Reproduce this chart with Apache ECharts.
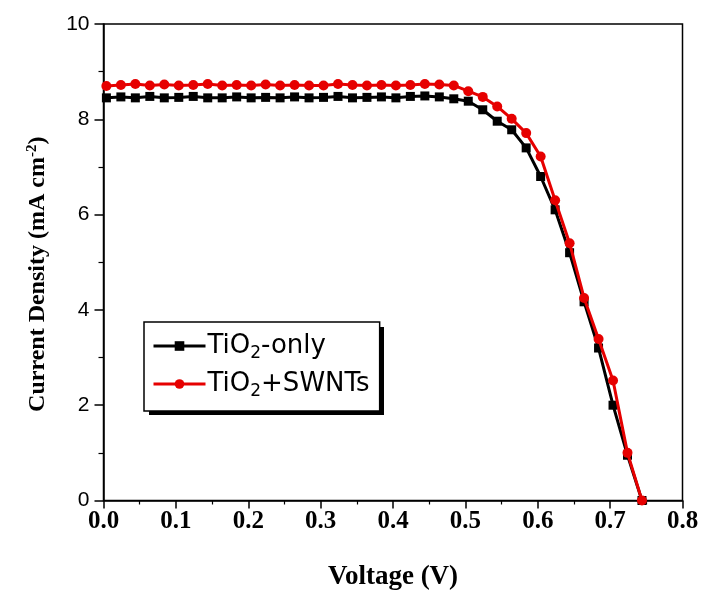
<!DOCTYPE html>
<html>
<head>
<meta charset="utf-8">
<script src="https://cdn.jsdelivr.net/npm/echarts@6/dist/echarts.min.js"></script>
<style>html,body{margin:0;padding:0;background:#fff}#c{width:706px;height:590px}</style>
</head>
<body>
<div id="c"></div>
<script>
// Voltage (V)
var voltage = [0.004,0.024,0.044,0.064,0.084,0.104,0.124,0.144,0.164,0.184,
  0.204,0.224,0.244,0.264,0.284,0.304,0.324,0.344,0.364,0.384,
  0.404,0.424,0.444,0.464,0.484,0.504,0.524,0.544,0.564,0.584,
  0.604,0.624,0.644,0.664,0.684,0.704,0.724,0.744];
// Current density (mA cm^-2)
var jTiO2 = [8.45,8.47,8.45,8.48,8.45,8.46,8.48,8.45,8.45,8.47,
  8.45,8.46,8.45,8.47,8.45,8.46,8.48,8.45,8.46,8.47,
  8.45,8.48,8.49,8.47,8.43,8.38,8.20,7.96,7.78,7.40,
  6.80,6.10,5.20,4.17,3.20,2.00,0.95,0.00];
var jSWNT = [8.70,8.72,8.74,8.71,8.73,8.71,8.72,8.74,8.71,8.72,
  8.71,8.73,8.71,8.72,8.71,8.71,8.74,8.72,8.71,8.72,
  8.71,8.72,8.74,8.73,8.71,8.59,8.47,8.27,8.01,7.71,
  7.22,6.30,5.40,4.25,3.39,2.52,1.00,0.00];
var seriesNames = ['TiO2-only', 'TiO2+SWNTs'];

function pairs(xs, ys){ return xs.map(function(x,i){ return [x, ys[i]]; }); }

var chart = echarts.init(document.getElementById('c'), null, {renderer:'canvas'});
chart.setOption({
  animation: false,
  backgroundColor: '#fff',
  grid: {left: 103.5, right: 23.5, top: 24, bottom: 89.5, outerBoundsMode: 'none', containLabel: false,
    show: true, borderColor: '#000', borderWidth: 1.5, backgroundColor: 'transparent'},
  graphic: [{
    type: 'rect', z: 90, silent: true,
    shape: {x: 149, y: 327, width: 235, height: 88},
    style: {fill: '#000'}
  }],
  legend: {
    orient: 'vertical', left: 144, top: 322, z: 100,
    data: seriesNames,
    backgroundColor: '#fff', borderColor: '#000', borderWidth: 1.5,
    padding: [11, 10, 11, 8],
    itemWidth: 52, itemHeight: 12, itemGap: 9,
    lineStyle: {width: 3},
    formatter: function(n){ return n === 'TiO2-only' ? 'TiO{s|2}-only' : 'TiO{s|2}+SWNTs'; },
    textStyle: {
      fontFamily: 'DejaVu Sans', fontSize: 26, color: '#000', padding: [0,0,0,-3],
      rich: {s: {fontFamily: 'DejaVu Sans', fontSize: 17, color: '#000', verticalAlign: 'bottom', padding: [15,0,0,0]}}
    }
  },
  xAxis: {
    type: 'value', min: 0, max: 0.8, interval: 0.1,
    name: 'Voltage (V)', nameLocation: 'middle', nameGap: 63,
    nameTextStyle: {fontFamily: 'Liberation Serif', fontWeight: 'bold', fontSize: 27, color: '#000'},
    axisLine: {onZero: false, lineStyle: {color: '#000', width: 1.5}},
    axisTick: {show: true, inside: false, length: 8, lineStyle: {color: '#000', width: 1.5}},
    minorTick: {show: true, splitNumber: 2, length: 4, lineStyle: {color: '#000', width: 1.2}},
    axisLabel: {fontFamily: 'Liberation Serif', fontWeight: 'bold', fontSize: 25, color: '#000', margin: 9,
      formatter: function(v){ return v.toFixed(1); }},
    splitLine: {show: false}
  },
  yAxis: {
    type: 'value', min: 0, max: 10, interval: 2,
    name: 'Current Density (mA cm{sup|-2})', nameLocation: 'middle', nameGap: 52, nameRotate: 90,
    nameTextStyle: {fontFamily: 'Liberation Serif', fontWeight: 'bold', fontSize: 24, color: '#000', padding: [0, 24, 0, 0],
      rich: {sup: {fontFamily: 'Liberation Serif', fontWeight: 'bold', fontSize: 15, color: '#000', verticalAlign: 'top', padding: [0,0,12,0]}}},
    axisLine: {onZero: false, lineStyle: {color: '#000', width: 1.5}},
    axisTick: {show: true, inside: false, length: 9, lineStyle: {color: '#000', width: 1.5}},
    minorTick: {show: true, splitNumber: 2, length: 5, lineStyle: {color: '#000', width: 1.2}},
    axisLabel: {fontFamily: 'Liberation Sans', fontSize: 21, color: '#000', margin: 14},
    splitLine: {show: false}
  },
  series: [
    {
      name: seriesNames[0], type: 'line', data: pairs(voltage, jTiO2),
      symbol: 'rect', symbolSize: 9,
      lineStyle: {color: '#000', width: 3}, itemStyle: {color: '#000'}, z: 2
    },
    {
      name: seriesNames[1], type: 'line', data: pairs(voltage, jSWNT),
      symbol: 'circle', symbolSize: 10,
      lineStyle: {color: '#e60000', width: 3}, itemStyle: {color: '#e60000'}, z: 3
    }
  ]
});
</script>
</body>
</html>
